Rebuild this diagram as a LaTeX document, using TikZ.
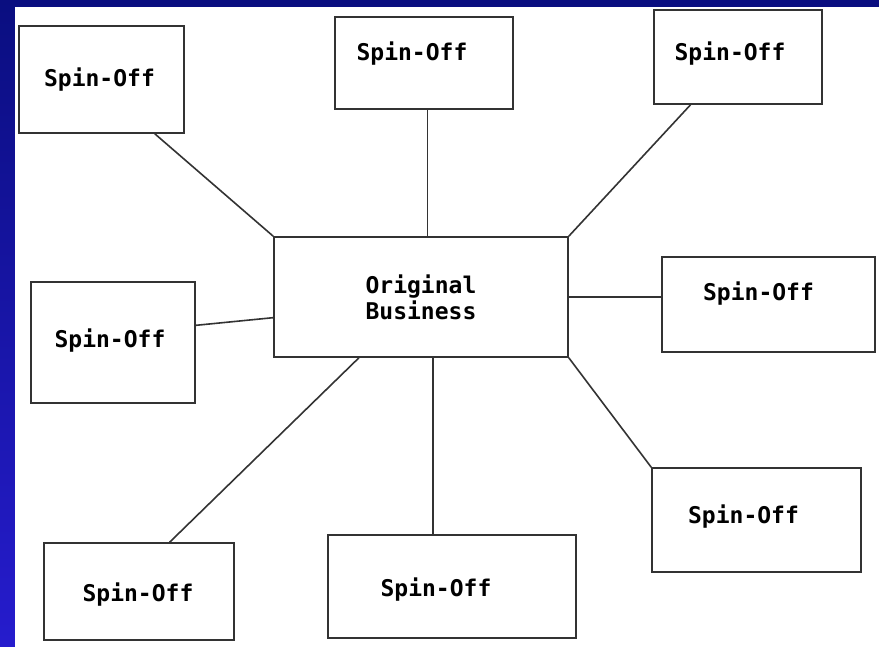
\documentclass[tikz,border=0pt]{standalone}
\usepackage{fontspec}
\setmonofont{DejaVu Sans Mono}
\usetikzlibrary{calc}

\begin{document}
\begin{tikzpicture}[x=1pt,y=-1pt,semithick,
  font=\ttfamily\bfseries\fontsize{23}{26}\selectfont]
  \tikzstyle{spinbox}=[draw=black!80,line width=1.6pt,fill=white,
    inner sep=0pt,align=center]
  \tikzstyle{tag}=[inner sep=0pt]
  \tikzstyle{link}=[draw=black!80,line width=1.6pt]

  % backdrop
  \useasboundingbox (0,0) rectangle (879,647);
  \shade[top color={rgb,255:red,10;green,14;blue,128},
         bottom color={rgb,255:red,38;green,28;blue,205}]
    (0,0) rectangle (879,647);
  \fill[white] (15,7) rectangle (879,647);

  \node[spinbox,minimum width=294,minimum height=120] (org) at (421,297) {Original\\Business};

  \node[spinbox,minimum width=165,minimum height=107,
    label={[tag,shift={(-2,0)}]center:Spin-Off}] (tl) at (101.5,79.5) {};
  \node[spinbox,minimum width=178,minimum height=92,
    label={[tag,shift={(-12,-9)}]center:Spin-Off}] (tm) at (424,63) {};
  \node[spinbox,minimum width=168,minimum height=94,
    label={[tag,shift={(-8,-3)}]center:Spin-Off}] (tr) at (738,57) {};
  \node[spinbox,minimum width=213,minimum height=95,
    label={[tag,shift={(-10,-11)}]center:Spin-Off}] (rm) at (768.5,304.5) {};
  \node[spinbox,minimum width=164,minimum height=121,
    label={[tag,shift={(-3,-2)}]center:Spin-Off}] (lm) at (113,342.5) {};
  \node[spinbox,minimum width=190,minimum height=97,
    label={[tag,shift={(-1,3)}]center:Spin-Off}] (bl) at (139,591.5) {};
  \node[spinbox,minimum width=248,minimum height=103,
    label={[tag,shift={(-16,3)}]center:Spin-Off}] (bm) at (452,586.5) {};
  \node[spinbox,minimum width=209,minimum height=104,
    label={[tag,shift={(-13,-3)}]center:Spin-Off}] (br) at (756.5,520) {};

  \path[link] ($(tl.south west)!.82!(tl.south east)$) -- (org.north west);
  \path[link] ($(tm.south west)!.52!(tm.south east)$) coordinate (tmfoot)
    -- (tmfoot |- org.north);
  \path[link] ($(tr.south west)!.22!(tr.south east)$) -- (org.north east);
  \path[link] (org.east) -- (org.east -| rm.west);
  \path[link] ($(lm.north east)!.36!(lm.south east)$)
    -- ($(org.north west)!.67!(org.south west)$);
  \path[link] ($(org.south west)!.29!(org.south east)$)
    -- ($(bl.north west)!.66!(bl.north east)$);
  \path[link] ($(org.south west)!.54!(org.south east)$) coordinate (orgfoot)
    -- (orgfoot |- bm.north);
  \path[link] (org.south east) -- (br.north west);
\end{tikzpicture}
\end{document}
